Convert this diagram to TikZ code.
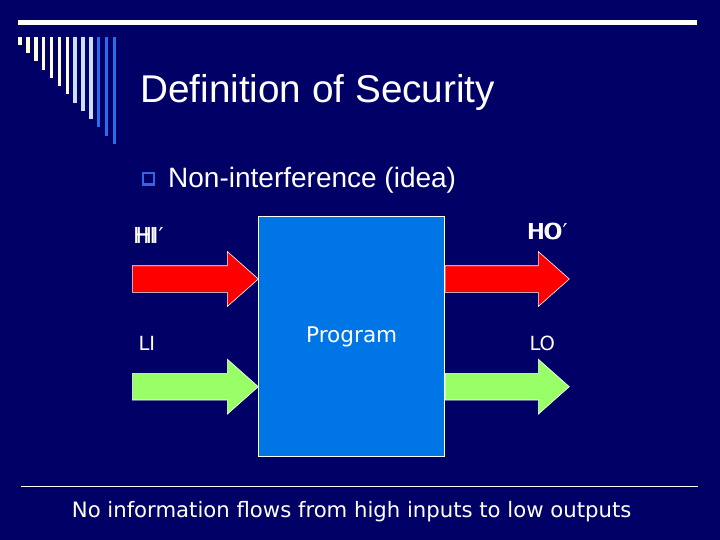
\documentclass[tikz,border=0pt]{standalone}
\usepackage{fontspec}
\setmainfont{Liberation Sans}
\newfontfamily\tah{DejaVu Sans}
\usetikzlibrary{calc}
\definecolor{bg}{RGB}{0,0,102}
\definecolor{progblue}{RGB}{0,117,230}
\definecolor{hired}{RGB}{255,0,0}
\definecolor{logreen}{RGB}{153,255,102}
\definecolor{cream}{RGB}{255,255,215}
\definecolor{paleblue}{RGB}{204,222,255}
\definecolor{stripeblue}{RGB}{40,110,235}
\definecolor{bulletblue}{RGB}{51,102,230}
\newcommand\fatarrow[3]{%
  \path[draw=white, line width=0.6pt, fill=#3] let \p1=(#1), \p2=(#2) in
    (\x1,\y1+13.3pt) -- (\x2-31pt,\y1+13.3pt) -- (\x2-31pt,\y1+27.5pt) --
    (\x2,\y1) -- (\x2-31pt,\y1-27.5pt) -- (\x2-31pt,\y1-13.3pt) --
    (\x1,\y1-13.3pt) -- cycle;}
\begin{document}
\begin{tikzpicture}[x=1pt,y=-1pt,
  txt/.style={text=white, inner sep=0pt, anchor=base west},
  lab/.style={txt, font=\tah\fontsize{22}{24}\selectfont},
  slab/.style={txt, font=\tah\fontsize{19.5}{22}\selectfont}]
\fill[bg] (0,0) rectangle (720,540);
\useasboundingbox (0,0) rectangle (720,540);
% top rule
\fill[white] (18,20.5) rectangle (697,25);
% stripes
\foreach \i/\c in {0/cream,1/cream,2/cream,3/cream,4/cream,5/cream,6/cream,
  7/paleblue,8/paleblue,9/paleblue,10/stripeblue,11/stripeblue,12/stripeblue}{
  \fill[\c] ({18.4+7.85*\i},37) rectangle ({21.9+7.85*\i},{45+8.25*\i});
}
% title
\node[txt, font=\fontsize{38.7}{42}\selectfont] (title) at (140,103) {Definition of Security};
% bullet
\draw[bulletblue, line width=2.2pt] (143.3,172.8) rectangle (154,184.5);
\node[txt, font=\fontsize{28}{30}\selectfont] (bullet) at (168,188) {Non-interference (idea)};
% program box
\node[draw=white, line width=0.8pt, fill=progblue, minimum width=186pt, minimum height=240pt,
  inner sep=0pt, anchor=north west, text=white, font=\tah\fontsize{21.6}{24}\selectfont]
  (prog) at (258.3,216) {\raisebox{-1.5pt}{Program}};
% arrows
\coordinate (hiIn) at (132.3,279);
\coordinate (loIn) at (132.3,386.7);
\coordinate (hiOut) at (569.3,279);
\coordinate (loOut) at (569.3,386.7);
\fatarrow{hiIn}{prog.west |- hiIn}{hired}
\fatarrow{loIn}{prog.west |- loIn}{logreen}
\fatarrow{prog.east |- hiOut}{hiOut}{hired}
\fatarrow{prog.east |- loOut}{loOut}{logreen}
% labels
\node[lab] (hi) at (133,243.3) {HI};
\node[lab] (hip) at (135.5,243.3) {HI′};
\node[slab] (li) at (138.3,350.7) {LI};
\node[lab] (ho) at (526.7,240) {HO};
\node[lab] (hop) at (528.5,240) {HO′};
\node[slab] (lo) at (529.3,350.7) {LO};
% bottom rule and statement
\draw[white, line width=1pt] (21,486) -- (698,486);
\node[txt, font=\tah\fontsize{21.2}{24}\selectfont] (stmt) at (71.7,517.7)
  {No information flows from high inputs to low outputs};
\end{tikzpicture}
\end{document}
